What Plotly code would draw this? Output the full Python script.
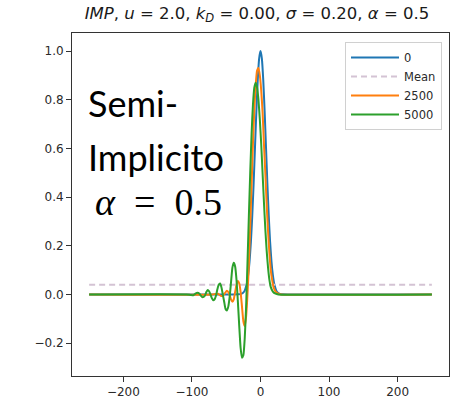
import plotly.graph_objects as go

# ---- data ----
x0 = [-250, -40, -32, -28, -24, -20, -18, -16, -14, -12, -10, -8, -6, -4, -2, 0,
      2, 4, 6, 8, 10, 12, 14, 16, 18, 20, 24, 28, 32, 40, 250]
y0 = [0, 0, 0.0004, 0.002, 0.011, 0.044, 0.080, 0.135, 0.216, 0.325, 0.458, 0.607, 0.755, 0.882, 0.969, 1.0,
      0.969, 0.882, 0.755, 0.607, 0.458, 0.325, 0.216, 0.135, 0.080, 0.044, 0.011, 0.002, 0.0004, 0, 0]

mean_x = [-250, 250]
mean_y = [0.04, 0.04]

x2500 = [-250, -70, -66, -62, -58, -55, -52, -49, -46, -43, -41, -39, -37, -35, -33, -31, -29, -27, -25,
         -23, -21, -19, -17, -15, -13, -11, -9, -7, -5, -3, -1, 1, 3, 5, 7, 9, 11, 13, 15, 17, 19, 22, 26, 30, 250]
y2500 = [0, 0, 0.002, 0.003, -0.006, -0.006, 0.005, 0.015, 0.005, -0.02, -0.03, -0.02, 0.01, 0.04, 0.055, 0.045, 0.01,
         -0.05, -0.11, -0.13, -0.09, 0.0, 0.12, 0.28, 0.45, 0.62, 0.76, 0.86, 0.92, 0.93, 0.90, 0.84, 0.75, 0.62,
         0.50, 0.37, 0.26, 0.17, 0.10, 0.06, 0.03, 0.012, 0.003, 0, 0]

x5000 = [-250, -108, -102, -98, -95, -92, -89, -87, -85, -83, -81, -79, -77, -75, -73, -71, -69, -67, -65, -63,
         -61, -59, -57, -55, -53, -51, -49, -47, -45, -43, -41, -39, -37, -35, -33, -31, -29, -27, -25, -23,
         -21, -19, -17, -15, -13, -11, -9, -7, -5, -3, -1, 1, 3, 5, 7, 9, 11, 13, 15, 18, 22, 26, 250]
y5000 = [0, 0, -0.002, -0.003, 0.003, 0.007, 0.003, -0.005, -0.011, -0.01, -0.004, 0.01, 0.018, 0.013, 0.0, -0.015,
         -0.024, -0.02, -0.005, 0.02, 0.04, 0.045, 0.03, 0.0, -0.03, -0.06, -0.066, -0.05, -0.01, 0.05, 0.11,
         0.13, 0.115, 0.06, -0.03, -0.13, -0.22, -0.26, -0.25, -0.18, -0.05, 0.13, 0.32, 0.50, 0.66, 0.78, 0.85,
         0.87, 0.85, 0.80, 0.72, 0.62, 0.50, 0.38, 0.27, 0.18, 0.11, 0.06, 0.03, 0.012, 0.003, 0, 0]

xticks = [-200, -100, 0, 100, 200]
xtick_text = ["\u2212200", "\u2212100", "0", "100", "200"]
yticks = [-0.2, 0.0, 0.2, 0.4, 0.6, 0.8, 1.0]
ytick_text = ["\u22120.2", "0.0", "0.2", "0.4", "0.6", "0.8", "1.0"]

W, H = 450, 408
L, R, T, B = 72, 1, 33, 32

fig = go.Figure()
line_kw = dict(width=2, shape="spline", smoothing=0.5)
fig.add_trace(go.Scatter(x=x0, y=y0, mode="lines", name="0", line=dict(color="#1f77b4", **line_kw)))
fig.add_trace(go.Scatter(x=mean_x, y=mean_y, mode="lines", name="Mean",
                         line=dict(color="#d4c3d4", width=2, dash="6px,4px")))
fig.add_trace(go.Scatter(x=x2500, y=y2500, mode="lines", name="2500", line=dict(color="#ff7f0e", **line_kw)))
fig.add_trace(go.Scatter(x=x5000, y=y5000, mode="lines", name="5000", line=dict(color="#2ca02c", **line_kw)))

pw = W - L - R
ph = H - T - B


def px(xp):
    return (xp - L) / pw


def py(yp):
    return (H - B - yp) / ph


EQ = " = "
fig.update_layout(
    width=W, height=H,
    margin=dict(l=L, r=R, t=T, b=B, autoexpand=False),
    paper_bgcolor="white", plot_bgcolor="white",
    font=dict(family="DejaVu Sans", size=12, color="#2a2a2a"),
    title=dict(
        text=("<i>IMP</i>, <i>u</i>" + EQ + "2.0, <i>k</i><sub><i>D</i></sub>" + EQ + "0.00, <i>σ</i>" + EQ
              + "0.20, <i>α</i>" + EQ + "0.5"),
        xref="paper", x=px(257), xanchor="center", yref="container", y=1 - 13 / H, yanchor="middle",
        font=dict(family="DejaVu Sans", size=16.5, color="#1a1a1a")),
    showlegend=True,
    legend=dict(x=px(442), xanchor="right", y=py(42), yanchor="top",
                bgcolor="white", bordercolor="#d0d0d0", borderwidth=1,
                font=dict(size=11.5, color="#2a2a2a"), itemwidth=48, tracegroupgap=0),
    xaxis=dict(range=[-275, 275], tickvals=xticks, ticktext=xtick_text, showgrid=False, zeroline=False,
               showline=True, linecolor="#333", linewidth=1, mirror=True,
               ticks="outside", ticklen=5, tickcolor="#333"),
    yaxis=dict(range=[-0.335, 1.074], tickvals=yticks, ticktext=ytick_text, showgrid=False, zeroline=False,
               showline=True, linecolor="#333", linewidth=1, mirror=True,
               ticks="outside", ticklen=5, tickcolor="#333"),
)

fig.add_annotation(text="Semi-", xref="paper", yref="paper", x=px(86), y=py(103),
                   xanchor="left", yanchor="middle", showarrow=False,
                   font=dict(family="Lato", size=36, color="black"))
fig.add_annotation(text="Implicito", xref="paper", yref="paper", x=px(86), y=py(157),
                   xanchor="left", yanchor="middle", showarrow=False,
                   font=dict(family="Lato", size=36, color="black"))
fig.add_annotation(text="<i>α</i>\u2002=\u20020.5", xref="paper", yref="paper", x=px(93), y=py(202),
                   xanchor="left", yanchor="middle", showarrow=False,
                   font=dict(family="Liberation Serif", size=38, color="black"))

fig.write_html("out.html", config={"displayModeBar": False},
               post_script="document.body.style.margin='0';document.body.style.overflow='hidden';")
